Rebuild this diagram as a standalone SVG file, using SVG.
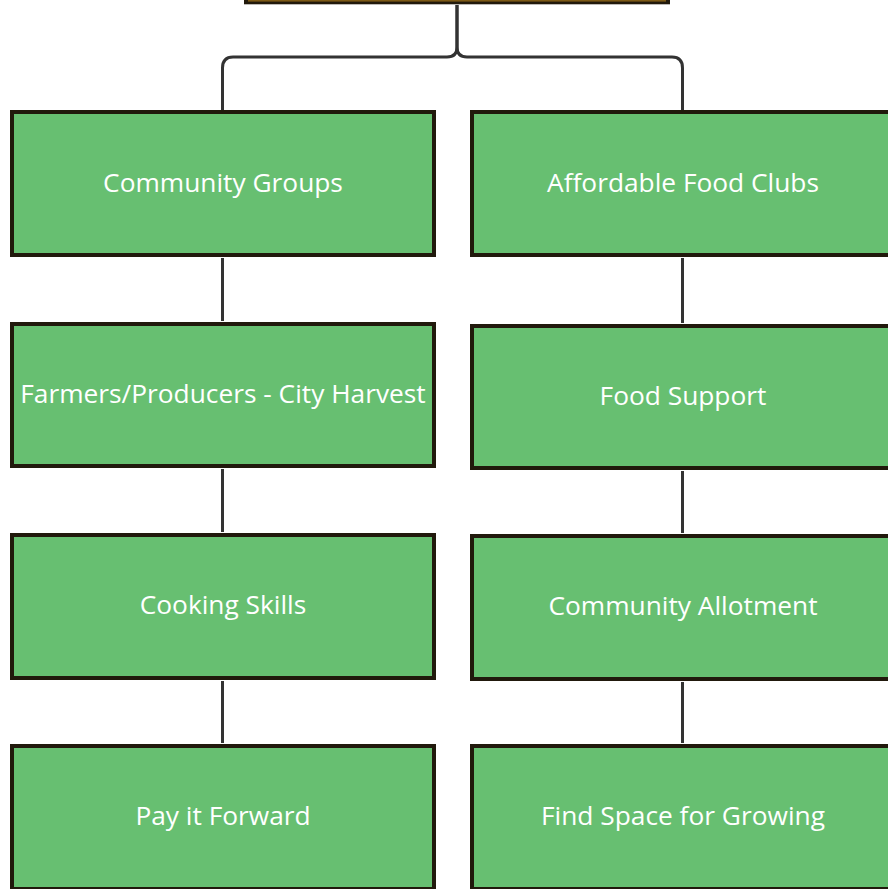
<svg xmlns="http://www.w3.org/2000/svg" width="888" height="889" viewBox="0 0 888 889">
<style>
.box{fill:#67bf71;stroke:#21190c;stroke-width:4}
.lbl{font-family:"Open Sans","Noto Sans",sans-serif;font-size:26.3px;fill:#ffffff;text-anchor:middle}
.conn{fill:none;stroke:#333333;stroke-width:3;stroke-linecap:butt}
</style>
<rect width="888" height="889" fill="#ffffff"/>
<g id="root"><rect x="244" y="-10" width="426" height="14.3" fill="#21190c"/><rect x="248" y="-10" width="418" height="11.6" fill="#7d5a16"/></g>
<g id="connectors">
<path class="conn" d="M457 5 V47 Q457 57 447 57 H233 Q222.5 57 222.5 68 V110"/>
<path class="conn" d="M457 5 V47 Q457 57 467 57 H672 Q682.5 57 682.5 68 V110"/>
<path class="conn" d="M222.5 258 V321"/>
<path class="conn" d="M682.5 258 V323"/>
<path class="conn" d="M222.5 469 V532"/>
<path class="conn" d="M682.5 471 V533"/>
<path class="conn" d="M222.5 681 V743"/>
<path class="conn" d="M682.5 682 V743"/>
</g>
<g id="n1"><rect class="box" x="12" y="112" width="422" height="143"/><text class="lbl" x="223" y="191.5">Community Groups</text></g>
<g id="n2"><rect class="box" x="472" y="112" width="422" height="143"/><text class="lbl" x="683" y="191.5">Affordable Food Clubs</text></g>
<g id="n3"><rect class="box" x="12" y="324" width="422" height="142"/><text class="lbl" x="223" y="402.5">Farmers/Producers - City Harvest</text></g>
<g id="n4"><rect class="box" x="472" y="326" width="422" height="142"/><text class="lbl" x="683" y="404.5">Food Support</text></g>
<g id="n5"><rect class="box" x="12" y="535" width="422" height="143"/><text class="lbl" x="223" y="613.5">Cooking Skills</text></g>
<g id="n6"><rect class="box" x="472" y="536" width="422" height="143"/><text class="lbl" x="683" y="614.5">Community Allotment</text></g>
<g id="n7"><rect class="box" x="12" y="746" width="422" height="143"/><text class="lbl" x="223" y="824.5">Pay it Forward</text></g>
<g id="n8"><rect class="box" x="472" y="746" width="422" height="143"/><text class="lbl" x="683" y="824.5">Find Space for Growing</text></g>
</svg>
